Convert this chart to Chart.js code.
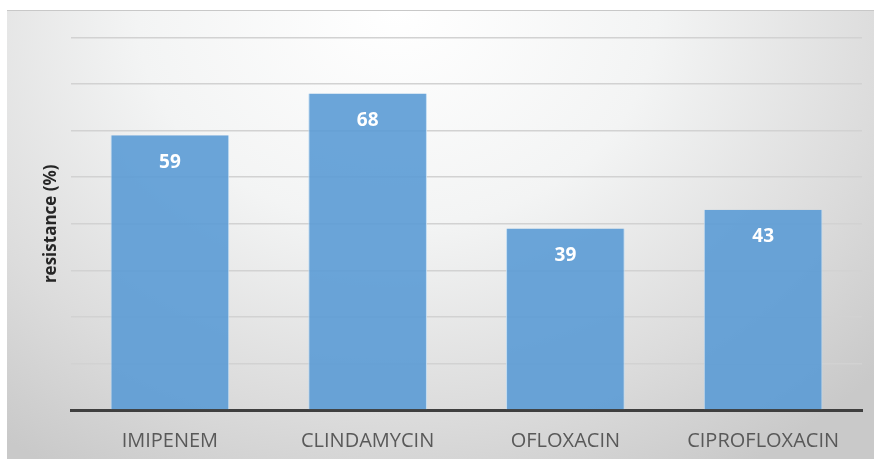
<!DOCTYPE html>
<html>
<head>
<meta charset="utf-8">
<script src="https://cdn.jsdelivr.net/npm/chart.js@4/dist/chart.umd.min.js"></script>
<style>
  html, body { margin: 0; padding: 0; background: #ffffff; }
  #wrap { position: relative; width: 874px; height: 463px; overflow: hidden; }
  #bg {
    position: absolute; left: 7px; top: 10px; width: 867px; height: 448px;
    background: radial-gradient(ellipse 75% 120% at 45% 0%, #ffffff 0%, #f3f4f4 40%, #dcdcdc 75%, #c9c9c9 100%);
    border-top: 1px solid #c8c8c8;
  }
  canvas { position: absolute; left: 0; top: 0; }
</style>
</head>
<body>
<div id="wrap">
  <div id="bg"></div>
  <canvas id="c" width="874" height="463"></canvas>
</div>
<script>
const categories = ["IMIPENEM", "CLINDAMYCIN", "OFLOXACIN", "CIPROFLOXACIN"];
const resistance = [59, 68, 39, 43];
const yAxisTitle = "resistance (%)";

const valueLabels = {
  id: 'valueLabels',
  afterDatasetsDraw(chart) {
    const ctx = chart.ctx;
    const meta = chart.getDatasetMeta(0);
    ctx.save();
    ctx.fillStyle = '#ffffff';
    ctx.font = 'bold 19px "Open Sans", sans-serif';
    ctx.textAlign = 'center';
    ctx.textBaseline = 'middle';
    meta.data.forEach((bar, i) => {
      ctx.fillText(String(resistance[i]), bar.x, bar.y + 27);
    });
    ctx.restore();
  }
};

new Chart(document.getElementById('c'), {
  type: 'bar',
  data: {
    labels: categories,
    datasets: [{
      data: resistance,
      backgroundColor: 'rgba(91,155,213,0.9)',
      borderColor: 'rgba(190,218,242,0.9)',
      borderWidth: { left: 1, right: 1, top: 0, bottom: 0 },
      borderSkipped: false,
      barPercentage: 0.6,
      categoryPercentage: 1.0
    }]
  },
  options: {
    responsive: false,
    animation: false,
    layout: { padding: { left: 7, right: 12, top: 37.5, bottom: 3 } },
    plugins: { legend: { display: false }, tooltip: { enabled: false } },
    scales: {
      x: {
        grid: { display: false, drawTicks: false },
        border: { display: true, color: '#3f3f3f', width: 3 },
        ticks: { color: '#595959', font: { family: '"Open Sans", sans-serif', size: 20 }, padding: 19 },
        afterFit(s) { s.height = 50; }
      },
      y: {
        min: 0, max: 80,
        ticks: { display: false, stepSize: 10 },
        grid: { color: '#d2d2d2', lineWidth: 1.5, drawTicks: false },
        border: { display: false },
        title: {
          display: true, text: yAxisTitle, color: '#262626',
          font: { family: '"Open Sans", sans-serif', size: 17, weight: 'bold' },
          padding: { top: 34, bottom: 0 }
        },
        afterFit(s) { s.width = 64; }
      }
    }
  },
  plugins: [valueLabels]
});
</script>
</body>
</html>
